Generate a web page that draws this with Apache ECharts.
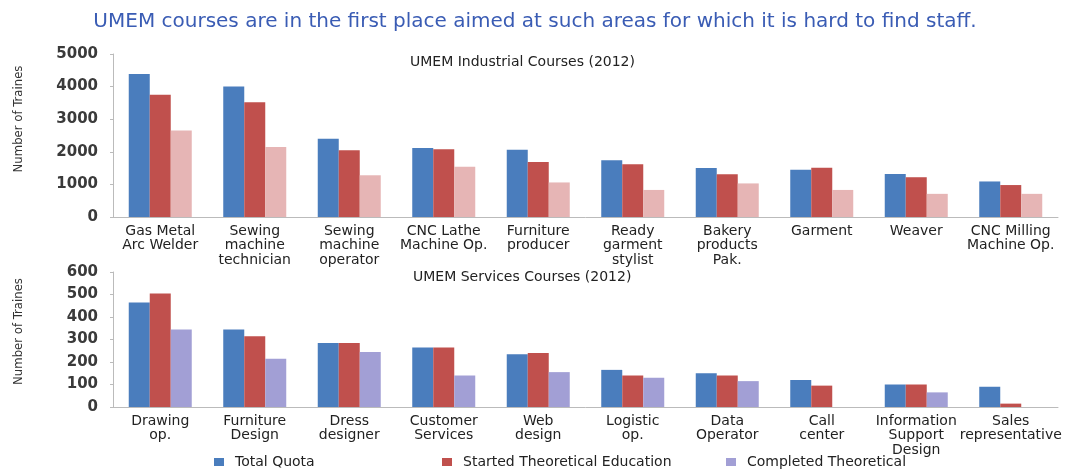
<!DOCTYPE html>
<html>
<head>
<meta charset="utf-8">
<title>UMEM courses</title>
<script src="https://cdn.jsdelivr.net/npm/echarts@6/dist/echarts.min.js"></script>
<style>
    html, body { margin: 0; padding: 0; background: #fff; }
    #chart { width: 1070px; height: 470px; }
</style>
</head>
<body>
<div id="chart"></div>
<script>
// 工业课程
var industrialCourses = ['Gas Metal\nArc Welder', 'Sewing\nmachine\ntechnician', 'Sewing\nmachine\noperator', 'CNC Lathe\nMachine Op.', 'Furniture\nproducer', 'Ready\ngarment\nstylist', 'Bakery\nproducts\nPak.', 'Garment', 'Weaver', 'CNC Milling\nMachine Op.'];
var industrialQuota = [4390, 4000, 2400, 2120, 2060, 1740, 1500, 1450, 1320, 1090];
var industrialStarted = [3750, 3520, 2050, 2080, 1690, 1620, 1310, 1510, 1220, 980];
var industrialCompleted = [2650, 2150, 1280, 1540, 1060, 830, 1030, 830, 710, 710];
var industrialTicks = [0, 1000, 2000, 3000, 4000, 5000];

// 服务课程
var servicesCourses = ['Drawing\nop.', 'Furniture\nDesign', 'Dress\ndesigner', 'Customer\nServices', 'Web\ndesign', 'Logistic\nop.', 'Data\nOperator', 'Call\ncenter', 'Information\nSupport\nDesign', 'Sales\nrepresentative'];
var servicesQuota = [465, 345, 285, 265, 235, 165, 150, 120, 100, 90];
var servicesStarted = [505, 315, 285, 265, 240, 140, 140, 95, 100, 15];
var servicesCompleted = [345, 215, 245, 140, 155, 130, 115, null, 65, null];
var servicesTicks = [0, 100, 200, 300, 400, 500, 600];

var seriesNames = ['Total Quota', 'Started Theoretical Education', 'Completed Theoretical'];

var font = '"DejaVu Sans", Arial, sans-serif';
var blue = '#4a7dbd';
var red = '#c0504d';
var pink = '#e6b5b5';
var purple = '#a29fd5';

function yAxisFor(ticks, gridIndex, namePad) {
    return {
        type: 'value',
        gridIndex: gridIndex,
        min: ticks[0],
        max: ticks[ticks.length - 1],
        interval: ticks[1] - ticks[0],
        name: 'Number of Traines',
        nameLocation: 'middle',
        nameGap: 88,
        nameTextStyle: {
            fontFamily: '"Liberation Sans Narrow", "DejaVu Sans Condensed", sans-serif',
            fontSize: 13,
            color: '#333',
            padding: [0, 0, 0, namePad]
        },
        axisLine: { show: true, lineStyle: { color: '#bbb' } },
        axisTick: { show: true, length: 3, lineStyle: { color: '#bbb' } },
        splitLine: { show: false },
        axisLabel: {
            fontFamily: font,
            fontSize: 15,
            fontWeight: 'bold',
            color: '#3a3a3a',
            margin: 15,
            formatter: function (v) { return String(v); }
        }
    };
}

function xAxisFor(cats, gridIndex) {
    return {
        type: 'category',
        gridIndex: gridIndex,
        data: cats,
        axisLine: { lineStyle: { color: '#bbb' } },
        axisTick: { length: 3, lineStyle: { color: '#bbb' } },
        axisLabel: {
            interval: 0,
            fontFamily: font,
            fontSize: 14,
            lineHeight: 14.5,
            color: '#222',
            margin: 7
        }
    };
}

function barSeries(name, data, color, idx) {
    return {
        name: name,
        type: 'bar',
        xAxisIndex: idx,
        yAxisIndex: idx,
        data: data,
        barWidth: 21,
        barGap: '0%',
        itemStyle: { color: color }
    };
}

// 图例分开放，间距和原图一样
function legendAt(name, color, left) {
    return {
        data: [{ name: name, itemStyle: { color: color } }],
        left: left,
        top: 450,
        itemWidth: 10,
        itemHeight: 8,
        icon: 'rect',
        textStyle: { fontFamily: font, fontSize: 14, color: '#222', padding: [0, 0, 0, 6] }
    };
}

var myChart = echarts.init(document.getElementById('chart'));

myChart.setOption({
    animation: false,
    title: [
        {
            text: 'UMEM courses are in the first place aimed at such areas for which it is hard to find staff.',
            left: 'center',
            top: 7,
            textStyle: { fontFamily: font, fontSize: 20, fontWeight: 'normal', color: '#3a5cb4' }
        }
    ],
    graphic: [
        {
            type: 'text', left: 410, top: 55,
            style: { text: 'UMEM Industrial Courses (2012)', font: '14px "DejaVu Sans", Arial, sans-serif', fill: '#222' }
        },
        {
            type: 'text', left: 413, top: 270,
            style: { text: 'UMEM Services Courses (2012)', font: '14px "DejaVu Sans", Arial, sans-serif', fill: '#222' }
        }
    ],
    legend: [
        legendAt(seriesNames[0], blue, 209),
        legendAt(seriesNames[1], red, 437),
        legendAt(seriesNames[2], purple, 721)
    ],
    grid: [
        { left: 113, top: 54, width: 945, height: 163 },
        { left: 113, top: 272, width: 945, height: 135 }
    ],
    xAxis: [xAxisFor(industrialCourses, 0), xAxisFor(servicesCourses, 1)],
    yAxis: [yAxisFor(industrialTicks, 0, 33), yAxisFor(servicesTicks, 1, 16)],
    series: [
        barSeries(seriesNames[0], servicesQuota, blue, 1),
        barSeries(seriesNames[1], servicesStarted, red, 1),
        barSeries(seriesNames[2], servicesCompleted, purple, 1),
        barSeries(seriesNames[0], industrialQuota, blue, 0),
        barSeries(seriesNames[1], industrialStarted, red, 0),
        barSeries(seriesNames[2], industrialCompleted, pink, 0)
    ]
});
</script>
</body>
</html>
